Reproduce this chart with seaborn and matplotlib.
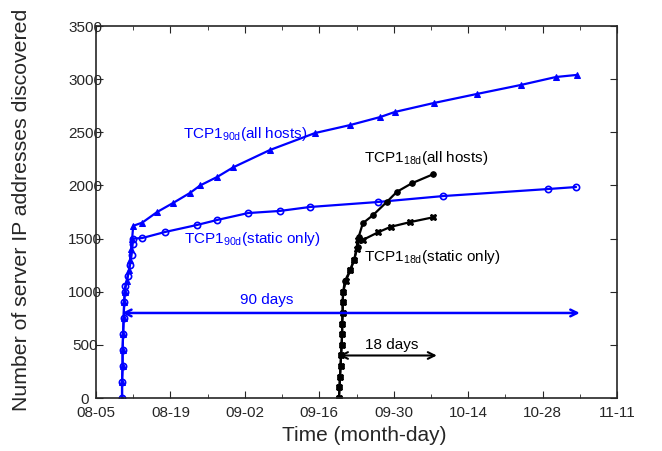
import matplotlib
matplotlib.use("Agg")
import matplotlib.pyplot as plt
import seaborn as sns

# days since 08-05
tick_days = [0, 14, 28, 42, 56, 70, 84, 98]
tick_labels = ["08-05", "08-19", "09-02", "09-16", "09-30", "10-14", "10-28", "11-11"]
y_ticks = [0, 500, 1000, 1500, 2000, 2500, 3000, 3500]

b_all_x = [4.9, 4.9, 5.0, 5.0, 5.1, 5.2, 5.3, 5.4, 5.8, 6.2, 6.4, 6.6, 6.8, 7.0,
           8.7, 11.5, 14.5, 17.7, 19.6, 22.8, 25.8, 32.7, 41.2, 47.8, 53.5, 56.2,
           63.5, 71.6, 79.9, 86.5, 90.5]
b_all_y = [0, 150, 300, 450, 600, 750, 900, 1000, 1100, 1200, 1300, 1400, 1500, 1620,
           1650, 1750, 1835, 1930, 2000, 2080, 2170, 2333, 2493, 2568, 2644, 2691,
           2775, 2860, 2945, 3020, 3040]

b_st_x = [4.9, 4.9, 5.0, 5.0, 5.1, 5.2, 5.3, 5.4, 5.5, 6.0, 6.4, 6.7, 6.9, 7.0,
          8.7, 13.0, 19.0, 22.8, 28.6, 34.6, 40.2, 53.0, 65.3, 85.0, 90.3]
b_st_y = [0, 150, 300, 450, 600, 750, 900, 1000, 1050, 1150, 1250, 1350, 1450, 1500,
          1505, 1562, 1628, 1675, 1740, 1760, 1797, 1844, 1900, 1966, 1985]

k_all_x = [45.7, 45.8, 45.9, 46.0, 46.1, 46.2, 46.3, 46.3, 46.4, 46.4, 46.5, 46.8,
           47.8, 48.5, 49.2, 49.4, 50.2, 52.1, 54.7, 56.6, 59.4, 63.4]
k_all_y = [0, 100, 200, 300, 400, 500, 600, 700, 800, 900, 1000, 1100,
           1200, 1300, 1420, 1515, 1645, 1720, 1845, 1940, 2020, 2105]

k_st_x = [45.7, 45.8, 45.9, 46.0, 46.1, 46.2, 46.3, 46.3, 46.4, 46.4, 46.5, 47.0,
          47.8, 48.6, 49.0, 49.2, 50.3, 53.1, 55.4, 59.1, 63.4]
k_st_y = [0, 100, 200, 300, 400, 500, 600, 700, 800, 900, 1000, 1100,
          1200, 1300, 1400, 1485, 1490, 1560, 1610, 1655, 1700]

sns.set_style("ticks")
plt.rcParams['font.family'] = ['Liberation Sans', 'DejaVu Sans']
plt.rcParams['mathtext.fontset'] = 'custom'
plt.rcParams['mathtext.rm'] = 'Liberation Sans'
plt.rcParams['mathtext.it'] = 'Liberation Sans'

fig = plt.figure(figsize=(6.62, 4.51), dpi=100)
ax = fig.add_axes([96/662, 53/451, 521/662, 372/451])

blue = "#0000ff"
sns.lineplot(x=b_all_x, y=b_all_y, sort=False, ax=ax, color=blue, lw=1.6,
             marker="^", markersize=5, markeredgecolor=blue, estimator=None)
sns.lineplot(x=b_st_x, y=b_st_y, sort=False, ax=ax, color=blue, lw=1.6,
             marker="o", markersize=4.5, markerfacecolor="none", markeredgecolor=blue,
             markeredgewidth=1.2, estimator=None)
sns.lineplot(x=k_all_x, y=k_all_y, sort=False, ax=ax, color="black", lw=1.6,
             marker="o", markersize=4, markeredgecolor="black", estimator=None)
sns.lineplot(x=k_st_x, y=k_st_y, sort=False, ax=ax, color="black", lw=1.6,
             marker="X", markersize=5, markeredgecolor="black", estimator=None)

ax.set_xlim(0, 98)
ax.set_ylim(0, 3500)
ax.set_xticks(tick_days)
ax.set_xticklabels(tick_labels)
ax.set_xticks([7, 21, 35, 49, 63, 77, 91], minor=True)
ax.set_yticks(y_ticks)
ax.tick_params(which="both", direction="in", top=True, right=True, labelsize=11)
ax.tick_params(axis="x", pad=6)
ax.tick_params(axis="y", pad=7.9)
for lab in ax.get_yticklabels():
    lab.set_horizontalalignment("center")
ax.tick_params(which="major", length=5)
ax.tick_params(which="minor", length=3)
for s in ax.spines.values():
    s.set_linewidth(1.2)
    s.set_visible(True)

ax.set_xlabel("Time (month-day)", fontsize=15)
ax.set_ylabel("Number of server IP addresses discovered", fontsize=15.3)
ax.xaxis.set_label_coords((364 - 96) / 521, -0.075)
ax.yaxis.set_label_coords((31 - 96) / 521, 0.505)

# arrows
ax.annotate("", xy=(4.9, 800), xytext=(91, 800),
            arrowprops=dict(arrowstyle="<->", color=blue, lw=1.8, mutation_scale=12,
                            shrinkA=0, shrinkB=0))
ax.text(32.2, 920, "90 days", color=blue, fontsize=11, ha="center", va="center")
ax.annotate("", xy=(45.7, 400), xytext=(64.1, 400),
            arrowprops=dict(arrowstyle="<->", color="black", lw=1.5, mutation_scale=12,
                            shrinkA=0, shrinkB=0))
ax.text(55.7, 495, "18 days", color="black", fontsize=11, ha="center", va="center")

ax.text(16.4, 2480, "TCP1$_{90d}$(all hosts)", color=blue, fontsize=11, va="center")
ax.text(16.6, 1500, "TCP1$_{90d}$(static only)", color=blue, fontsize=11, va="center")
ax.text(50.4, 2260, "TCP1$_{18d}$(all hosts)", color="black", fontsize=11, va="center")
ax.text(50.5, 1330, "TCP1$_{18d}$(static only)", color="black", fontsize=11, va="center")

fig.savefig("out.png", dpi=100)
